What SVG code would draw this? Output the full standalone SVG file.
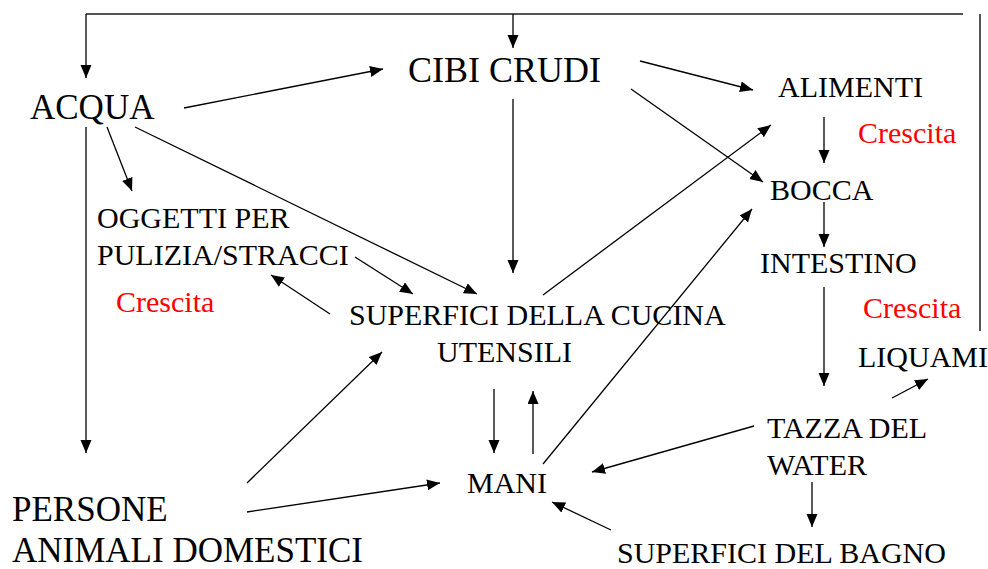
<svg xmlns="http://www.w3.org/2000/svg" width="988" height="569" viewBox="0 0 988 569">
<style>
text{font-family:"Liberation Serif","Times New Roman",serif;fill:#000}
.s{font-size:30px}
.b{font-size:35px}
.r{fill:#ff0000}
.c line{stroke:#000;stroke-width:1.3;fill:none}
.c .f{stroke:#555;stroke-width:2}
.c .a{marker-end:url(#ah)}
</style>
<defs>
<marker id="ah" markerUnits="userSpaceOnUse" markerWidth="14" markerHeight="12" refX="13" refY="5.5" orient="auto">
<path d="M0,0 L13,5.5 L0,11 z" fill="#000"/>
</marker>
</defs>
<rect width="988" height="569" fill="#fff"/>
<g class="c" id="connectors">
<line class="f" x1="86" y1="14" x2="963" y2="14"/>
<line class="f" x1="980" y1="14" x2="980" y2="331"/>
<line class="a" x1="86" y1="14" x2="86" y2="78"/>
<line class="a" x1="513" y1="14" x2="513" y2="48"/>
<line class="a" x1="184" y1="108" x2="383" y2="69"/>
<line class="a" x1="107" y1="127" x2="132" y2="191"/>
<line class="a" x1="135" y1="127" x2="477" y2="294"/>
<line class="a" x1="86" y1="127" x2="86" y2="453"/>
<line class="a" x1="640" y1="61" x2="753" y2="90"/>
<line class="a" x1="631" y1="89" x2="763" y2="182"/>
<line class="a" x1="513" y1="99" x2="513" y2="273"/>
<line class="a" x1="543" y1="295" x2="771" y2="125"/>
<line class="a" x1="543" y1="464" x2="752" y2="209"/>
<line class="a" x1="824" y1="117" x2="824" y2="163"/>
<line class="a" x1="824" y1="202" x2="824" y2="247"/>
<line class="a" x1="824" y1="287" x2="824" y2="386"/>
<line class="a" x1="892" y1="398" x2="928" y2="379"/>
<line class="a" x1="754" y1="426" x2="592" y2="472"/>
<line class="a" x1="812" y1="482" x2="812" y2="527"/>
<line class="a" x1="611" y1="530" x2="552" y2="502"/>
<line class="a" x1="494" y1="389" x2="494" y2="453"/>
<line class="a" x1="533" y1="454" x2="533" y2="391"/>
<line class="a" x1="247" y1="483" x2="382" y2="352"/>
<line class="a" x1="247" y1="512" x2="440" y2="483"/>
<line class="a" x1="330" y1="314" x2="271" y2="275"/>
<line class="a" x1="355" y1="257" x2="413" y2="294"/>
</g>
<g id="acqua"><text class="b" x="30" y="119">ACQUA</text></g>
<g id="cibi-crudi"><text x="408" y="82" font-size="36">CIBI CRUDI</text></g>
<g id="alimenti"><text class="s" x="778" y="97">ALIMENTI</text></g>
<g id="crescita-1"><text class="s r" x="858" y="143">Crescita</text></g>
<g id="bocca"><text class="s" x="770" y="200">BOCCA</text></g>
<g id="oggetti"><text class="s" x="97" y="228">OGGETTI PER</text><text class="s" x="97" y="265">PULIZIA/STRACCI</text></g>
<g id="crescita-2"><text class="s r" x="116" y="312">Crescita</text></g>
<g id="superfici-cucina"><text class="s" x="349" y="325">SUPERFICI DELLA CUCINA</text><text class="s" x="437" y="362">UTENSILI</text></g>
<g id="intestino"><text class="s" x="760" y="273">INTESTINO</text></g>
<g id="crescita-3"><text class="s r" x="863" y="318">Crescita</text></g>
<g id="liquami"><text class="s" x="858" y="367">LIQUAMI</text></g>
<g id="tazza"><text class="s" x="767" y="438">TAZZA DEL</text><text class="s" x="767" y="475">WATER</text></g>
<g id="mani"><text class="s" x="467" y="493">MANI</text></g>
<g id="superfici-bagno"><text class="s" x="617" y="563">SUPERFICI DEL BAGNO</text></g>
<g id="persone"><text class="b" x="12" y="521">PERSONE</text><text class="b" x="12" y="562">ANIMALI DOMESTICI</text></g>
</svg>
